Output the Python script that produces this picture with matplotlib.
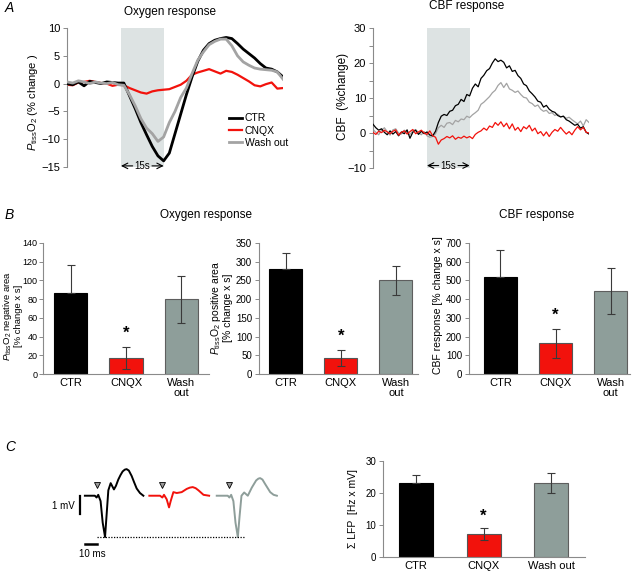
"""
Oxygen / CBF responses with CNQX (panels A-C)
"""

import numpy as np
import matplotlib
matplotlib.use("Agg")
import matplotlib.pyplot as plt

plt.rcParams["font.family"] = ["Liberation Sans", "DejaVu Sans"]
plt.rcParams["mathtext.fontset"] = "custom"
plt.rcParams["mathtext.rm"] = "Liberation Sans"
plt.rcParams["mathtext.it"] = "Liberation Sans:italic"

# ---------------------------------------------------------------------------
# Data
# ---------------------------------------------------------------------------

CONDITIONS = ["CTR", "CNQX", "Wash out"]
BAR_LABELS = ["CTR", "CNQX", "Wash\nout"]
STIM = (19, 34)  # 15 s stimulation window

# Panel A, oxygen traces (% change), 2 s steps
OXY_TIME = list(range(0, 77, 2))
OXY_CTR = [0.0, -0.2, 0.3, -0.4, 0.4, 0.2, 0.0, 0.3, 0.2, 0.1, 0.1,
           -2.2, -4.5, -7.0, -9.2, -11.3, -13.0, -13.9, -12.5, -9.0,
           -5.5, -2.0, 1.2, 4.0, 6.0, 7.2, 7.8, 8.1, 8.3, 8.1, 7.2, 6.2,
           5.4, 4.6, 3.6, 2.8, 2.6, 2.1, 1.2]
OXY_CNQX = [-0.2, -0.3, 0.2, 0.3, 0.5, 0.3, 0.1, 0.0, -0.4, -0.2, -0.3,
            -0.8, -1.2, -1.6, -1.8, -1.4, -1.2, -1.1, -1.0, -0.6,
            -0.2, 0.5, 1.6, 2.0, 2.3, 2.6, 2.2, 1.8, 2.3, 2.1, 1.6, 1.0,
            0.4, -0.3, -0.5, -0.1, 0.2, -0.9, -0.8]
OXY_WASH = [0.3, 0.1, 0.5, 0.3, 0.0, 0.3, 0.1, 0.0, 0.2, -0.2, -0.3,
            -2.0, -4.0, -6.3, -8.0, -9.0, -10.4, -9.6, -7.0, -5.0,
            -2.5, -0.8, 1.8, 4.2, 5.7, 7.0, 7.6, 8.0, 8.0, 6.8, 5.0, 3.9,
            3.3, 2.8, 2.6, 2.5, 2.4, 2.1, 0.8]

# Panel A, CBF traces (% change), 1 s steps
CBF_TIME = list(range(0, 77))
CBF_CTR = [2.5, 1.5, 0.8, 1.2, 0.2, -0.5, 0.6, -0.3, 0.4, -0.8,
           0.3, -0.2, 0.9, -1.5, 0.2, 0.8, -0.4, 0.5, -0.2, 0.3,
           -0.6, -0.8, 0.5, 3.0, 4.8, 5.3, 5.0, 6.2, 6.5, 7.8,
           8.2, 9.6, 9.0, 11.0, 10.6, 12.8, 14.0, 13.2, 15.6, 16.5,
           17.8, 18.4, 20.0, 21.2, 20.4, 20.8, 20.2, 18.6, 19.2, 17.6,
           17.9, 16.4, 15.6, 14.0, 13.5, 12.0, 11.2, 10.3, 9.1, 8.8,
           7.4, 7.9, 6.8, 6.2, 5.9, 5.0, 4.6, 4.8, 3.8, 3.4,
           2.8, 2.2, 2.5, 1.4, 1.8, 0.2, -0.3]
CBF_WASH = [1.0, 0.2, -0.5, 0.8, 1.5, 0.4, -0.6, 0.9, 1.2, 0.0,
            -0.3, 0.8, 0.2, -0.4, 0.6, 1.0, 0.1, -0.5, 0.4, -0.8,
            -1.2, -1.0, -0.2, 1.5, 2.2, 1.6, 2.8, 3.0, 2.4, 3.6,
            3.2, 4.0, 3.8, 4.8, 4.4, 5.2, 5.8, 6.5, 8.2, 8.8,
            9.6, 10.4, 11.5, 12.2, 13.6, 14.4, 13.0, 14.2, 12.6, 12.2,
            11.6, 12.0, 11.0, 10.2, 10.0, 8.8, 8.4, 7.6, 8.0, 6.8,
            6.2, 6.5, 5.6, 5.8, 5.0, 5.4, 4.6, 4.8, 4.2, 4.5,
            3.8, 3.2, 2.6, 3.4, 2.0, 3.8, 3.0]
CBF_CNQX = [0.2, -0.4, 0.5, 0.1, 0.8, 0.3, -0.2, 0.5, 0.9, -0.6,
            0.2, 0.6, -0.3, 0.4, 1.0, -0.2, 0.3, 0.8, 0.0, -0.4,
            0.6, -0.8, -1.2, -3.2, -2.0, -1.6, -1.0, -1.4, -0.8, -1.8,
            -1.2, -1.5, -0.9, -1.4, -1.0, -1.6, -0.4, 0.2, 0.6, 1.4,
            0.8, 2.0, 1.6, 3.0, 2.2, 3.2, 1.8, 2.8, 1.2, 2.6,
            0.8, 1.6, 0.4, 1.8, 1.2, 2.2, 0.6, 1.4, -0.2, 0.4,
            -0.8, 0.3, -1.0, 0.2, 1.0, 0.5, 1.6, 0.6, -0.3, 0.4,
            -0.5, 0.8, 1.8, 0.9, 1.6, 0.2, 0.0]

# Panel B, areas (mean, s.e.m.)
NEG_AREA = [87, 17, 80]
NEG_ERR = [30, 12, 25]
POS_AREA = [280, 43, 250]
POS_ERR = [43, 22, 38]
CBF_AREA = [520, 163, 443]
CBF_ERR = [145, 80, 123]

# Panel C, LFP example traces (ms, mV)
LFP_T_CTR = [0, 8.5, 10, 11.4, 13.4, 15.2, 17.2, 18.6, 20, 22, 24.8, 26.5,
             28.5, 30.4, 32.2, 34, 35.6, 37.5, 39.9, 42, 44.2, 47, 49.9]
LFP_CTR = [0, 0, -0.1, 0.05, -0.3, -1.5, -2.3, -1.0, 0.3, 0.7, 0.35, 0.55,
           0.9, 1.15, 1.35, 1.45, 1.48, 1.4, 1.1, 0.75, 0.4, 0.15, 0.0]
LFP_T_CNQX = [0, 9.1, 11.1, 12.5, 14.8, 16.8, 18.2, 20.5, 23.4, 27.6,
              31.9, 34.5, 37, 39.5, 41.9, 46.2, 51]
LFP_CNQX = [0, 0, -0.1, 0.05, -0.2, -0.65, -0.3, 0.2, 0.15, 0.2,
            0.38, 0.45, 0.48, 0.42, 0.3, 0.05, 0.0]
LFP_T_WASH = [0, 9.4, 10.8, 12.3, 14.2, 16, 18, 19.4, 21.1, 23.4, 26.5,
              29.9, 33.6, 35.5, 37, 39, 41.3, 45.6, 48.5, 51.3]
LFP_WASH = [0, 0, -0.1, 0.05, -0.3, -1.5, -2.3, -1.2, 0.0, 0.18, 0.0,
            0.45, 0.85, 0.95, 0.98, 0.9, 0.65, 0.2, 0.05, 0.0]
LFP_SUM = [23.2, 7.2, 23.2]
LFP_SUM_ERR = [2.3, 1.8, 3.2]

# ---------------------------------------------------------------------------
# Style
# ---------------------------------------------------------------------------

W, H = 632, 574
RED = "#f2120c"
TRACE_GREY = "#a3a3a3"
BAR_GREY = "#8e9e9a"
SHADE = "#dde3e3"
SPINE = "#8a8a8a"
BAR_COLORS = ["black", RED, BAR_GREY]
BAR_EDGES = ["black", "#555555", "#5e5e5e"]

fig = plt.figure(figsize=(W / 100, H / 100), dpi=100)


def add_ax(x0, y_top, x1, y_bot):
    """Axes from pixel box (left, top, right, bottom)."""
    return fig.add_axes([x0 / W, 1 - y_bot / H, (x1 - x0) / W, (y_bot - y_top) / H])


def ftext(x, y, s, **kw):
    fig.text(x / W, 1 - y / H, s, **kw)


def style_axis(ax, xaxis=False, ysize=7.5):
    for side in ["top", "right"]:
        ax.spines[side].set_visible(False)
    ax.spines["left"].set_color(SPINE)
    ax.spines["left"].set_linewidth(0.8)
    if xaxis:
        ax.spines["bottom"].set_color(SPINE)
        ax.spines["bottom"].set_linewidth(0.8)
    else:
        ax.spines["bottom"].set_visible(False)
        ax.set_xticks([])
    ax.tick_params(axis="y", direction="out", length=3, width=0.7,
                   color=SPINE, labelsize=ysize, pad=2)
    ax.tick_params(axis="x", length=0, labelsize=8, pad=3)


def stim_arrow(ax, y):
    mid = (STIM[0] + STIM[1]) / 2
    kw = dict(arrowprops=dict(arrowstyle="->", lw=0.8, color="black",
                              shrinkA=0, shrinkB=0), annotation_clip=False)
    ax.annotate("", xy=(STIM[0], y), xytext=(mid - 3.4, y), **kw)
    ax.annotate("", xy=(STIM[1], y), xytext=(mid + 3.4, y), **kw)
    ax.text(mid, y, "15s", ha="center", va="center", fontsize=7, clip_on=False)


# ---------------------------------------------------------------------------
# Panel A
# ---------------------------------------------------------------------------

ax = add_ax(67, 28, 283, 167)
ax.axvspan(*STIM, color=SHADE, lw=0, zorder=0)
ax.plot(OXY_TIME, OXY_CTR, color="black", lw=2.0, label="CTR", zorder=3)
ax.plot(OXY_TIME, OXY_CNQX, color=RED, lw=1.6, label="CNQX", zorder=2)
ax.plot(OXY_TIME, OXY_WASH, color=TRACE_GREY, lw=2.0, label="Wash out", zorder=4)
ax.set_xlim(0, 76)
ax.set_ylim(-15, 10)
ax.set_yticks([10, 5, 0, -5, -10, -15])
style_axis(ax, ysize=8)
stim_arrow(ax, -14.8)
ax.legend(loc="upper left", bbox_to_anchor=(0.75, 0.385), frameon=False,
          fontsize=7.5, handlelength=1.2, handletextpad=0.3,
          labelspacing=0.2, borderpad=0, borderaxespad=0)

ax = add_ax(373, 28, 589, 168)
ax.axvspan(*STIM, color=SHADE, lw=0, zorder=0)
ax.plot(CBF_TIME, CBF_WASH, color=TRACE_GREY, lw=0.9, zorder=2)
ax.plot(CBF_TIME, CBF_CTR, color="black", lw=0.9, zorder=3)
ax.plot(CBF_TIME, CBF_CNQX, color=RED, lw=0.9, zorder=4)
ax.set_xlim(0, 76)
ax.set_ylim(-10, 30)
ax.set_yticks([30, 20, 10, 0, -10])
ax.set_yticks(np.arange(-10, 31, 5), minor=True)
ax.tick_params(axis="y", which="minor", length=3, width=0.7, color=SPINE)
style_axis(ax, ysize=8)
stim_arrow(ax, -9.3)

ftext(170, 12, "Oxygen response", ha="center", va="center", fontsize=8.5)
ftext(467, 6, "CBF response", ha="center", va="center", fontsize=8.5)
ftext(33, 102, r"$P_{\rm tiss}$O$_2$ (% change )", rotation=90,
      ha="center", va="center", fontsize=8)
ftext(343, 96, "CBF  (%change)", rotation=90, ha="center", va="center",
      fontsize=8.5)

# ---------------------------------------------------------------------------
# Panel B
# ---------------------------------------------------------------------------


def bar_panel(ax, vals, errs, ylim, step, width, labels):
    x = np.arange(len(vals))
    ax.bar(x, vals, width=width, color=BAR_COLORS, edgecolor=BAR_EDGES,
           linewidth=0.8, zorder=2)
    # lower whisker of the black bar disappears into the bar
    lower = [0] + list(errs[1:])
    ax.errorbar(x, vals, yerr=[lower, errs], fmt="none", ecolor="#3a3a3a",
                elinewidth=0.8, capsize=3, capthick=0.8, zorder=3)
    ax.text(1, vals[1] + errs[1] + ylim * 0.045, "*", ha="center",
            va="bottom", fontsize=12, fontweight="bold")
    ax.set_ylim(0, ylim)
    ax.set_yticks(np.arange(0, ylim + 1, step))
    ax.set_xticks(x)
    ax.set_xticklabels(labels, linespacing=1.0)
    style_axis(ax, xaxis=True, ysize=7)


ax = add_ax(43, 243, 209, 374)
bar_panel(ax, NEG_AREA, NEG_ERR, 140, 20, 0.6, BAR_LABELS)
ax.set_xlim(-0.5, 2.5)
ax.tick_params(axis="y", labelsize=6.5, pad=1)

ax = add_ax(259, 243, 418, 374)
bar_panel(ax, POS_AREA, POS_ERR, 350, 50, 0.6, BAR_LABELS)
ax.set_xlim(-0.48, 2.4)

ax = add_ax(469, 243, 630, 374)
bar_panel(ax, CBF_AREA, CBF_ERR, 700, 100, 0.6, BAR_LABELS)
ax.set_xlim(-0.57, 2.35)

ftext(206, 215, "Oxygen response", ha="center", va="center", fontsize=8.5)
ftext(537, 215, "CBF response", ha="center", va="center", fontsize=8.5)
ftext(12, 316, r"$P_{\rm tiss}$O$_2$ negative area" + "\n[% change x s]",
      rotation=90, ha="center", va="center", fontsize=6.8, linespacing=0.9)
ftext(221, 308, r"$P_{\rm tiss}$O$_2$ positive area" + "\n[% change x s]",
      rotation=90, ha="center", va="center", fontsize=7.5, linespacing=0.95)
ftext(438, 305, "CBF response [% change x s]", rotation=90,
      ha="center", va="center", fontsize=7.5)

# ---------------------------------------------------------------------------
# Panel C
# ---------------------------------------------------------------------------

ax = add_ax(38, 449, 290, 564)
ax.set_xlim(-40, 175)
ax.set_ylim(-3.8, 2.6)
ax.axis("off")
red_off, wash_off = 55, 112.5
ax.plot(LFP_T_CTR, LFP_CTR, color="black", lw=1.4)
ax.plot(np.add(LFP_T_CNQX, red_off), LFP_CNQX, color=RED, lw=1.4)
ax.plot(np.add(LFP_T_WASH, wash_off), LFP_WASH, color=BAR_GREY, lw=1.4)
for x0 in [10, red_off + 10.5, wash_off + 10.3]:
    ax.plot(x0, 0.62, marker="v", ms=5, mfc="#9a9a9a", mec="black", mew=0.6)
ax.plot([10, 137], [-2.3, -2.3], color="black", lw=0.9, ls=(0, (1, 1.2)))
ax.plot([-4.3, -4.3], [0, -1], color="black", lw=1.6)
ax.plot([0, 10], [-2.67, -2.67], color="black", lw=1.8)
ax.text(-8.5, -0.55, "1 mV", ha="right", va="center", fontsize=7)
ax.text(6, -3.25, "10 ms", ha="center", va="center", fontsize=7)

ax = add_ax(383, 461, 585, 557)
bar_panel(ax, LFP_SUM, LFP_SUM_ERR, 30, 10, 0.5, CONDITIONS)
ax.set_xlim(-0.49, 2.5)
ftext(353, 509, r"Σ LFP  [Hz x mV]", rotation=90, ha="center",
      va="center", fontsize=7.5)

for letter, y in [("A", 8), ("B", 215), ("C", 447)]:
    ftext(5, y, letter, ha="left", va="center", fontsize=10, style="italic")

fig.savefig("out.png", dpi=100)
